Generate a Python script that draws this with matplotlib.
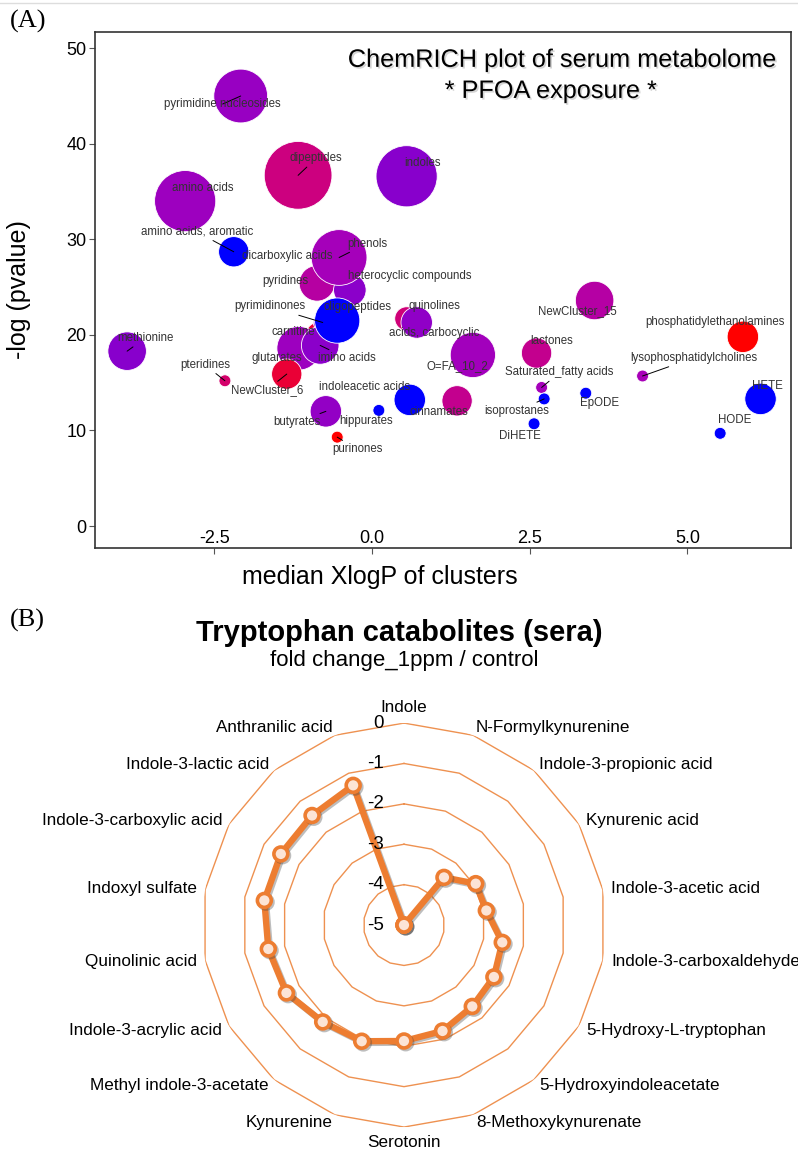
import matplotlib
matplotlib.use("Agg")
import matplotlib.pyplot as plt
import numpy as np
from matplotlib import patheffects
from matplotlib.colors import LinearSegmentedColormap
from matplotlib.lines import Line2D

plt.rcParams['font.family'] = ['Liberation Sans', 'DejaVu Sans']

# ---- (A) ChemRICH clusters ----
CLUSTERS = ['pyridines', 'dicarboxylic acids', 'heterocyclic compounds', 'phenols',
            'pyrimidine nucleosides', 'dipeptides', 'indoles', 'amino acids',
            'amino acids, aromatic', 'carnitine', 'pyrimidinones', 'glutarates', 'imino acids',
            'oligopeptides', 'NewCluster_6', 'acids, carbocyclic', 'quinolines', 'methionine',
            'pteridines', 'O=FA_10_2', 'lactones', 'NewCluster_15', 'phosphatidylethanolamines',
            'lysophosphatidylcholines', 'Saturated_fatty acids', 'isoprostanes', 'EpODE', 'DiHETE',
            'indoleacetic acids', 'cinnamates', 'butyrates', 'hippurates', 'purinones', 'HETE', 'HODE']
XLOGP = [-0.87, -0.71, -0.35, -0.52,
         -2.08, -1.17, 0.55, -2.96,
         -2.19, -0.82, -0.78, -1.16, -0.82,
         -0.55, -1.35, 0.55, 0.71, -3.88,
         -2.33, 1.60, 2.61, 3.53, 5.88,
         4.29, 2.69, 2.73, 3.39, 2.57,
         0.60, 1.35, -0.73, 0.11, -0.55, 6.16, 5.52]
NEG_LOG_P = [25.4, 27.5, 24.7, 28.1,
             45.0, 36.7, 36.6, 34.0,
             28.7, 19.8, 21.3, 18.6, 18.9,
             21.5, 15.9, 21.7, 21.3, 18.3,
             15.2, 17.9, 18.1, 23.6, 19.8,
             15.7, 14.5, 13.3, 13.9, 10.7,
             13.2, 13.1, 12.0, 12.1, 9.3, 13.3, 9.7]
CLUSTER_SIZE = [18, 10, 15, 44,
                41, 65, 53, 53,
                13, 13, 5, 27, 20,
                29, 13, 8, 14, 21,
                2, 29, 13, 21, 14,
                2, 2, 2, 2, 2,
                14, 13, 14, 2, 2, 14, 2]
INCREASED_RATIO = [0.48, 0.35, 0.22, 0.38,
                   0.30, 0.60, 0.20, 0.33,
                   0.0, 0.80, 0.30, 0.33, 0.22,
                   0.0, 0.82, 0.62, 0.25, 0.20,
                   0.66, 0.36, 0.55, 0.47, 1.0,
                   0.40, 0.38, 0.0, 0.0, 0.0,
                   0.0, 0.55, 0.27, 0.0, 1.0, 0.0, 0.0]

# label placement (pixels, dx right / dy up) and repel segments
LABEL_OFFSETS = {
    'pyridines': (-32, 2), 'dicarboxylic acids': (-40, 7), 'heterocyclic compounds': (60, 14),
    'phenols': (28, 14), 'pyrimidine nucleosides': (-18, -8), 'dipeptides': (18, 17),
    'indoles': (16, 13), 'amino acids': (18, 13), 'amino acids, aromatic': (-37, 20),
    'carnitine': (-27, 5), 'pyrimidinones': (-53, 16), 'glutarates': (-22, -10),
    'imino acids': (27, -13), 'oligopeptides': (20, 14), 'NewCluster_6': (-20, -16),
    'acids, carbocyclic': (28, -14), 'quinolines': (18, 16), 'methionine': (18, 13),
    'pteridines': (-20, 16), 'O=FA_10_2': (-15, -11), 'lactones': (15, 12),
    'NewCluster_15': (-17, -11), 'phosphatidylethanolamines': (-28, 15),
    'lysophosphatidylcholines': (51, 18), 'Saturated_fatty acids': (18, 15),
    'isoprostanes': (-27, -12), 'EpODE': (14, -10), 'DiHETE': (-14, -12),
    'indoleacetic acids': (-45, 13), 'cinnamates': (-18, -11), 'butyrates': (-29, -11),
    'hippurates': (-13, -11), 'purinones': (20, -12), 'HETE': (7, 13), 'HODE': (15, 13),
}
LEADERS = ['phenols', 'pyrimidine nucleosides', 'dipeptides', 'amino acids, aromatic',
           'pyrimidinones', 'imino acids', 'NewCluster_6', 'methionine', 'pteridines',
           'lysophosphatidylcholines', 'Saturated_fatty acids', 'isoprostanes',
           'butyrates', 'purinones']

# ---- (B) Tryptophan catabolites radar ----
TRP_METABOLITES = ['Indole', 'N-Formylkynurenine', 'Indole-3-propionic acid', 'Kynurenic acid',
                   'Indole-3-acetic acid', 'Indole-3-carboxaldehyde', '5-Hydroxy-L-tryptophan',
                   '5-Hydroxyindoleacetate', '8-Methoxykynurenate', 'Serotonin', 'Kynurenine',
                   'Methyl indole-3-acetate', 'Indole-3-acrylic acid', 'Quinolinic acid',
                   'Indoxyl sulfate', 'Indole-3-carboxylic acid', 'Indole-3-lactic acid',
                   'Anthranilic acid']
FOLD_CHANGE = [-5.0, -5.0, -3.46, -2.95, -2.93, -2.53, -2.43, -2.37, -2.21, -2.13,
               -1.94, -1.87, -1.64, -1.59, -1.49, -1.48, -1.46, -1.32]
RADAR_TICKS = [-5, -4, -3, -2, -1, 0]

ORANGE = '#ED7D31'

fig = plt.figure(figsize=(7.98, 11.51), dpi=100)
fig.add_artist(Line2D([0, 1], [0.9975, 0.9975], color='#dddddd', lw=1))

# ================= panel A =================
ax = fig.add_axes([0.119, 0.5239, 0.872, 0.4483])
cmap = LinearSegmentedColormap.from_list('chemrich', [(0, '#0000FF'), (0.2, '#8800CC'),
                                                      (0.4, '#A800B8'), (0.6, '#CC007F'),
                                                      (0.8, '#E8003C'), (1, '#FF0000')])
sizes = 36.6 * np.array(CLUSTER_SIZE)
ax.scatter(XLOGP, NEG_LOG_P, s=sizes, c=INCREASED_RATIO, cmap=cmap, vmin=0, vmax=1,
           edgecolors='white', linewidths=0.6, zorder=2)

for name, x, y in zip(CLUSTERS, XLOGP, NEG_LOG_P):
    dx, dy = LABEL_OFFSETS[name]
    props = None
    if name in LEADERS:
        props = dict(arrowstyle='-', color='black', lw=0.7, shrinkA=0, shrinkB=0)
    ax.annotate(name, xy=(x, y), xytext=(dx, dy), textcoords='offset pixels',
                ha='center', va='center', fontsize=8.3, color='#333333',
                arrowprops=props, zorder=3)

ax.set_xlim(-4.39, 6.64)
ax.set_ylim(-2.3, 51.7)
ax.set_xticks([-2.5, 0.0, 2.5, 5.0])
ax.set_xticklabels(['-2.5', '0.0', '2.5', '5.0'])
ax.set_yticks([0, 10, 20, 30, 40, 50])
for sp in ax.spines.values():
    sp.set_color('#333333')
    sp.set_linewidth(1.2)
ax.tick_params(axis='x', length=4, width=0.8, color='#555555', labelsize=13, pad=-17)
ax.tick_params(axis='y', length=4, width=0.8, color='#555555', labelsize=13, pad=2)
ax.set_ylabel('-log (pvalue)', fontsize=18)
ax.yaxis.set_label_coords(-0.092, 0.5)
fig.text(0.476, 0.4985, 'median XlogP of clusters', fontsize=18, ha='center', va='center')

shadow = [patheffects.withSimplePatchShadow(offset=(1.2, -1.2), shadow_rgbFace='#888888', alpha=0.35)]
fig.text(0.704, 0.948, 'ChemRICH plot of serum metabolome', fontsize=18.2, ha='center',
         va='center', path_effects=shadow)
fig.text(0.69, 0.921, '* PFOA exposure *', fontsize=18.2, ha='center', va='center',
         path_effects=shadow)
fig.text(0.012, 0.981, '(A)', family='Liberation Serif', fontsize=19, va='center')

# ================= panel B =================
fig.text(0.012, 0.461, '(B)', family='Liberation Serif', fontsize=19, va='center')
fig.text(0.50, 0.450, 'Tryptophan catabolites (sera)', fontsize=21, fontweight='bold',
         ha='center', va='center')
fig.text(0.507, 0.426, 'fold change_1ppm / control', fontsize=16, ha='center', va='center')

n = len(TRP_METABOLITES)
theta = np.linspace(0, 2 * np.pi, n, endpoint=False)
rax = fig.add_axes([0.2531, 0.0208, 0.5063, 0.351], projection='polar')
rax.set_theta_zero_location('N')
rax.set_theta_direction(-1)
rax.set_ylim(RADAR_TICKS[0], RADAR_TICKS[-1])
rax.grid(False)
rax.spines['polar'].set_visible(False)
rax.set_xticks([])
rax.set_yticks([])
rax.patch.set_alpha(0)

ring_theta = np.append(theta, theta[0])
for v in RADAR_TICKS[1:]:
    rax.plot(ring_theta, np.full(n + 1, v), color='#EE9150', lw=1.0, zorder=1)

for v in RADAR_TICKS:
    rax.annotate(str(v), xy=(0, v), xytext=(-20, 0), textcoords='offset pixels',
                 ha='right', va='center', fontsize=13.5, zorder=5)

line_shadow = [patheffects.SimpleLineShadow(offset=(1.2, -1.2), shadow_color='#444444', alpha=0.35),
               patheffects.Normal()]
vals = np.append(FOLD_CHANGE, FOLD_CHANGE[0])
rax.plot(ring_theta, vals, color=ORANGE, lw=4.6, marker='o', markersize=10,
         markerfacecolor='#FCE4D6', markeredgecolor=ORANGE, markeredgewidth=2.6,
         path_effects=line_shadow, zorder=4, clip_on=False)

for t, name in zip(theta, TRP_METABOLITES):
    deg = np.degrees(t)
    if np.isclose(deg, 0):
        ha, va = 'center', 'bottom'
    elif np.isclose(deg, 180):
        ha, va = 'center', 'top'
    elif deg < 180:
        ha, va = 'left', 'center'
    else:
        ha, va = 'right', 'center'
    rax.text(t, 0.2, name, ha=ha, va=va, fontsize=12.3, clip_on=False)

fig.savefig('out.png', dpi=100)
